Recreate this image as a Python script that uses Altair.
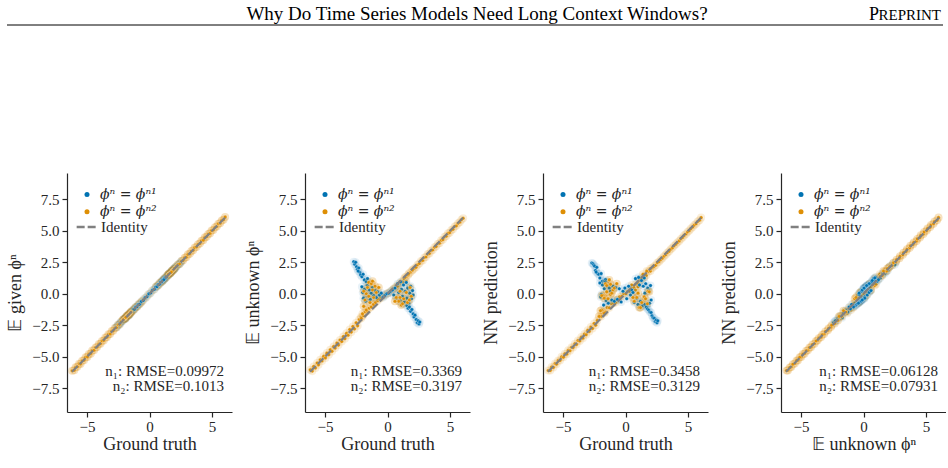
import altair as alt
import pandas as pd

# ---------------- data ----------------
HEADER = "Why Do Time Series Models Need Long Context Windows?"
LAB1 = "ϕⁿ = ϕⁿ¹"
LAB2 = "ϕⁿ = ϕⁿ²"
X_TITLES = ["Ground truth", "Ground truth", "Ground truth", "𝔼 unknown ϕⁿ"]
Y_TITLES = ["𝔼 given ϕⁿ", "𝔼 unknown ϕⁿ", "NN prediction", "NN prediction"]
RMSE_N1 = ["0.09972", "0.3369", "0.3458", "0.06128"]
RMSE_N2 = ["0.1013", "0.3197", "0.3129", "0.07931"]
X_TICKS = [-5, 0, 5]
Y_TICKS = [-7.5, -5.0, -2.5, 0.0, 2.5, 5.0, 7.5]
IDENTITY = [-6.2, 6.2]

# n2 (orange) series: ground truth, E given, E unknown, NN prediction
gt_o = [
    -6.18, -6.02, -5.91, -5.77, -5.63, -5.52, -5.38, -5.24, -5.11, -4.97,
    -4.85, -4.70, -4.58, -4.44, -4.31, -4.19, -4.05, -3.92, -3.80, -3.66,
    -3.53, -3.41, -3.28, -3.15, -3.02, -2.90, -2.77, -2.64, -2.51, -2.39, -2.26,
    -2.12, -1.95, -1.80, -1.62, -1.47, -1.30, -1.12, -0.96, -0.80, -0.63,
    -0.47, -0.30, -0.14, 0.03, 0.18, 0.35, 0.51, 0.68, 0.84, 1.01,
    1.17, 1.33, 1.50, 1.66, 1.83, 1.99, 2.14,
    2.28, 2.41, 2.55, 2.68, 2.82, 2.95, 3.08, 3.22, 3.35, 3.49,
    3.62, 3.76, 3.89, 4.03, 4.16, 4.30, 4.43, 4.57, 4.70, 4.84,
    4.97, 5.11, 5.24, 5.38, 5.51, 5.65, 5.78, 5.92, 6.05,
    -2.00, -1.90, -1.80, -1.70, -1.60, -1.50, -1.30, -1.20, -1.10, -1.00,
    -0.90, -0.80, -1.40, -1.70, -2.10, -0.70, -1.20, -1.90, -1.50, -0.60,
    0.50, 0.70, 0.80, 0.90, 1.00, 1.10, 1.20, 1.30, 1.40, 1.50,
    1.60, 1.70, 1.80, 1.90, 2.00, 1.20, 0.60, 1.50, 1.75, 1.00,
]
eg_o = [
    -6.12, -6.08, -5.85, -5.80, -5.57, -5.58, -5.33, -5.29, -5.05, -5.02,
    -4.80, -4.76, -4.52, -4.49, -4.27, -4.24, -4.00, -3.97, -3.75, -3.71,
    -3.48, -3.46, -3.23, -3.20, -2.97, -2.95, -2.72, -2.69, -2.46, -2.44, -2.21,
    -2.07, -1.99, -1.75, -1.66, -1.43, -1.34, -1.08, -0.99, -0.76, -0.66,
    -0.44, -0.33, -0.11, 0.00, 0.21, 0.32, 0.54, 0.65, 0.87, 0.98,
    1.20, 1.30, 1.53, 1.63, 1.86, 1.96, 2.17,
    2.33, 2.37, 2.60, 2.64, 2.87, 2.91, 3.13, 3.18, 3.40, 3.45,
    3.67, 3.72, 3.94, 3.99, 4.21, 4.26, 4.48, 4.53, 4.75, 4.80,
    5.02, 5.07, 5.29, 5.34, 5.56, 5.61, 5.83, 5.88, 6.10,
    -1.96, -1.93, -1.77, -1.73, -1.57, -1.53, -1.27, -1.23, -1.07, -1.03,
    -0.87, -0.83, -1.37, -1.67, -2.06, -0.73, -1.17, -1.87, -1.47, -0.57,
    0.53, 0.67, 0.83, 0.87, 1.03, 1.07, 1.23, 1.27, 1.43, 1.47,
    1.63, 1.67, 1.83, 1.87, 2.03, 1.17, 0.63, 1.53, 1.72, 0.97,
]
eu_o = [
    -6.05, -6.15, -5.78, -5.90, -5.50, -5.65, -5.25, -5.35, -4.98, -5.10,
    -4.72, -4.85, -4.45, -4.58, -4.20, -4.32, -3.92, -4.08, -3.68, -3.80,
    -3.40, -3.58, -3.15, -3.30, -2.85, -3.05, -2.60, -2.80, -2.30, -2.55, -2.05,
    -1.85, -1.75, -1.45, -1.40, -1.15, -1.05, -0.85, -0.70, -0.55, -0.40,
    -0.30, -0.15, -0.05, 0.05, 0.12, 0.25, 0.38, 0.55, 0.70, 0.85,
    1.00, 1.20, 1.35, 1.50, 1.70, 1.85, 2.00,
    2.10, 2.30, 2.40, 2.60, 2.65, 2.88, 2.92, 3.15, 3.20, 3.42,
    3.48, 3.70, 3.75, 3.98, 4.02, 4.25, 4.30, 4.52, 4.58, 4.80,
    4.85, 5.06, 5.12, 5.34, 5.40, 5.60, 5.68, 5.88, 6.00,
    -1.60, -1.00, -0.50, 0.00, 0.50, 0.90, 0.80, 0.30, -0.30, 0.60,
    0.10, -0.40, -0.70, -1.30, -1.95, 0.50, 1.00, 0.20, -0.20, -0.20,
    0.40, -0.30, 0.60, -0.60, 0.20, -0.90, 0.90, -0.40, 1.30, 0.10,
    -0.70, 1.60, 0.50, -0.20, 1.90, -0.80, -0.60, 1.00, -0.50, -0.30,
]
nn_o = [
    -6.10, -6.10, -5.82, -5.86, -5.55, -5.60, -5.30, -5.30, -5.02, -5.05,
    -4.77, -4.80, -4.50, -4.53, -4.25, -4.28, -3.97, -4.03, -3.72, -3.76,
    -3.45, -3.53, -3.20, -3.26, -2.90, -3.00, -2.65, -2.76, -2.36, -2.50, -2.12,
    -1.80, -1.80, -1.40, -1.46, -1.10, -1.12, -0.80, -0.76, -0.50, -0.46,
    -0.25, -0.20, 0.00, 0.00, 0.17, 0.20, 0.43, 0.50, 0.76, 0.80,
    1.06, 1.15, 1.41, 1.45, 1.76, 1.80, 2.05,
    2.16, 2.26, 2.46, 2.55, 2.71, 2.83, 2.98, 3.10, 3.26, 3.37,
    3.54, 3.65, 3.81, 3.93, 4.08, 4.20, 4.36, 4.47, 4.64, 4.75,
    4.91, 5.02, 5.18, 5.30, 5.46, 5.56, 5.74, 5.84, 6.05,
    -1.35, -1.30, -0.15, -0.35, 0.80, 0.65, 1.10, -0.05, 0.05, 0.30,
    0.45, -0.70, -0.40, -1.55, -1.80, 0.80, 0.75, -0.15, 0.15, -0.50,
    0.70, -0.60, 0.30, -0.30, 0.55, -1.10, 1.20, -0.70, 1.55, -0.25,
    -0.40, 1.80, 0.20, 0.15, 2.00, -1.10, -0.30, 1.30, -0.80, 0.05,
]

# n1 (blue) series
gt_b = [
    -2.70, -2.62, -2.55, -2.48, -2.40, -2.30, -2.22, -2.15, -2.05, -1.95, -1.85, -1.70, -2.35, -1.60,
    -2.05, -1.98, -1.92, -1.85, -1.75, -1.70, -1.62, -1.55, -1.45, -1.38, -1.30, -1.20, -1.10, -1.00,
    -0.90, -0.80, -0.65, -0.50,
    -0.35, -0.20, -0.05, 0.10, 0.25, 0.40,
    0.50, 0.60, 0.70, 0.80, 0.90, 1.00, 1.05, 1.12, 1.20, 1.28, 1.35, 1.42, 1.50, 1.55, 1.62, 1.70,
    1.78, 1.85, 1.92, 2.00, 2.05, 1.15,
    1.55, 1.65, 1.75, 1.85, 1.95, 2.05, 2.12, 2.20, 2.30, 2.38, 2.45, 2.52, 2.58,
]
eg_b = [
    -2.66, -2.66, -2.51, -2.52, -2.36, -2.34, -2.18, -2.19, -2.01, -1.99, -1.81, -1.74, -2.31, -1.64,
    -2.00, -2.03, -1.88, -1.90, -1.71, -1.74, -1.58, -1.60, -1.41, -1.42, -1.26, -1.24, -1.06, -1.04,
    -0.86, -0.84, -0.61, -0.54,
    -0.31, -0.24, -0.01, 0.06, 0.29, 0.36,
    0.54, 0.56, 0.74, 0.76, 0.94, 0.96, 1.09, 1.08, 1.24, 1.24, 1.39, 1.38, 1.54, 1.51, 1.66, 1.66,
    1.82, 1.81, 1.96, 1.96, 2.09, 1.11,
    1.59, 1.61, 1.79, 1.81, 1.99, 2.01, 2.16, 2.16, 2.34, 2.34, 2.49, 2.48, 2.62,
]
eu_b = [
    2.55, 2.35, 2.50, 2.15, 1.95, 2.05, 1.70, 1.50, 1.35, 1.55, 1.10, 0.95, 1.80, 1.20,
    0.55, 0.10, -0.35, 0.35, -0.60, 0.00, 0.65, -0.20, 0.30, -0.45, 0.05, 0.50, -0.15, 0.25,
    -0.30, 0.15, -0.10, 0.05,
    -0.30, -0.15, 0.00, 0.05, 0.20, 0.30,
    -0.10, 0.45, -0.35, 0.80, 0.10, -0.55, 0.95, 0.35, -0.20, 0.70, -0.65, 0.20, 0.90, -0.35, 0.45, -0.75,
    0.05, 0.60, -0.40, 0.25, -0.10, -0.80,
    -0.95, -1.15, -1.05, -1.40, -1.25, -1.60, -1.85, -1.70, -2.05, -2.30, -2.15, -2.40, -2.25,
]
nn_b = [
    2.45, 2.40, 2.30, 2.20, 1.85, 2.10, 1.60, 1.55, 1.25, 1.60, 1.00, 1.02, 1.72, 1.12,
    0.85, -0.25, -0.05, 0.70, -0.90, 0.40, 0.95, -0.55, 0.60, -0.75, 0.45, 0.20, -0.50, 0.60,
    -0.60, 0.50, -0.45, 0.40,
    -0.65, 0.20, 0.45, -0.40, 0.60, -0.10,
    0.30, 0.10, -0.70, 1.20, -0.35, -0.85, 1.30, 0.70, -0.60, 1.05, -0.95, 0.60, 1.25, 0.05, 0.80, -1.00,
    0.45, 0.25, -0.75, 0.65, -0.50, -1.05,
    -0.85, -1.05, -1.20, -1.30, -1.45, -1.50, -1.75, -1.90, -1.95, -2.20, -2.10, -2.30, -2.15,
]

for arr in (eg_o, eu_o, nn_o):
    assert len(arr) == len(gt_o), (len(arr), len(gt_o))
for arr in (eg_b, eu_b, nn_b):
    assert len(arr) == len(gt_b), (len(arr), len(gt_b))

# ---------------- styling ----------------
BLUE = "#0173B2"
ORANGE = "#DE8F05"
GRAY = "#808080"
INK = "#262626"
SERIF = "Liberation Serif"
MATH = "DejaVu Serif"
PW, PH = 165, 239
YEXT = 61  # y axis extent incl. title

PANEL_DATA = [
    (gt_o, eg_o, gt_b, eg_b),
    (gt_o, eu_o, gt_b, eu_b),
    (gt_o, nn_o, gt_b, nn_b),
    (eu_o, nn_o, eu_b, nn_b),
]
# which orange points get re-drawn above the blue ones (draw order of the original scatter)
ORANGE_ON_TOP = [
    "abs(datum.x) > 1.4",
    "abs(datum.y - datum.x) > 0.6",
    "abs(datum.y - datum.x) > 0.6",
    "abs(datum.x) > 1.3",
]


def make_panel(i):
    xo, yo, xb, yb = PANEL_DATA[i]
    do = pd.DataFrame({"x": xo, "y": yo, "series": LAB2})
    db = pd.DataFrame({"x": xb, "y": yb, "series": LAB1})
    dl = pd.DataFrame({"x": IDENTITY, "y": IDENTITY, "kind": "Identity"})

    X = alt.X("x:Q", scale=alt.Scale(domain=[-6.6, 6.6], nice=False, zero=False),
              axis=alt.Axis(values=X_TICKS, format="d", title=X_TITLES[i],
                            labelPadding=2, titlePadding=1))
    Y = alt.Y("y:Q", scale=alt.Scale(domain=[-9.4, 9.6], nice=False, zero=False),
              axis=alt.Axis(values=Y_TICKS, format=".1f", title=Y_TITLES[i],
                            labelPadding=3, titlePadding=8,
                            minExtent=35, maxExtent=35))
    color = alt.Color(
        "series:N",
        scale=alt.Scale(domain=[LAB1, LAB2], range=[BLUE, ORANGE]),
        legend=alt.Legend(title=None, orient="none", legendX=13, legendY=14.5,
                          symbolType="circle", symbolSize=25, symbolOpacity=1,
                          symbolStrokeWidth=0, padding=0, rowPadding=3.3,
                          labelOffset=6, labelFont=MATH, labelFontSize=14,
                          labelFontStyle="italic", labelColor=INK),
    )

    def halo(ch, c, op):
        return ch.mark_circle(size=65, opacity=op, color=c).encode(x=X, y=Y)

    def dots(ch):
        return ch.mark_circle(size=13, opacity=1, stroke="white",
                              strokeWidth=0.3).encode(x=X, y=Y, color=color)

    co = alt.Chart(do)
    cb = alt.Chart(db)
    top = alt.Chart(do).transform_filter(ORANGE_ON_TOP[i])
    pts = [halo(co, ORANGE, 0.15), dots(co), halo(cb, BLUE, 0.09), dots(cb),
           halo(top, ORANGE, 0.12), dots(top)]

    line = alt.Chart(dl).mark_line(color=GRAY, strokeWidth=2.2).encode(
        x=X, y=Y,
        strokeDash=alt.StrokeDash(
            "kind:N",
            scale=alt.Scale(domain=["Identity"], range=[[8, 3]]),
            legend=alt.Legend(title=None, orient="none", legendX=8, legendY=41.5,
                              symbolType="stroke", symbolSize=470,
                              symbolStrokeColor=GRAY, symbolStrokeWidth=2.5,
                              padding=0, labelOffset=1, labelFont=SERIF,
                              labelFontSize=15, labelFontStyle="normal",
                              labelColor=INK),
        ),
    )

    one = pd.DataFrame({"a": [0]})
    t1 = alt.Chart(one).mark_text(align="right", baseline="middle", font=SERIF,
                                  fontSize=15, color=INK).encode(
        x=alt.value(PW - 8), y=alt.value(198), text=alt.value(f"n₁: RMSE={RMSE_N1[i]}"))
    t2 = alt.Chart(one).mark_text(align="right", baseline="middle", font=SERIF,
                                  fontSize=15, color=INK).encode(
        x=alt.value(PW - 8), y=alt.value(213), text=alt.value(f"n₂: RMSE={RMSE_N2[i]}"))

    return alt.layer(*pts, line, t1, t2).properties(width=PW, height=PH)


panels = alt.hconcat(*[make_panel(i) for i in range(4)], spacing=12).resolve_scale(
    x="independent", y="independent", color="independent", strokeDash="independent"
).resolve_legend(color="independent", strokeDash="independent")

# header: its origin is aligned with the first panel's plot origin (x = 6 + YEXT)
hd = pd.DataFrame({"a": [0]})
head_title = alt.Chart(hd).mark_text(font=SERIF, fontSize=19, align="center",
                                     baseline="alphabetic", color="black").encode(
    x=alt.value(477 - 6 - YEXT), y=alt.value(20), text=alt.value(HEADER))
head_p = alt.Chart(hd).mark_text(font=SERIF, fontSize=18, align="right",
                                 baseline="alphabetic", color="black").encode(
    x=alt.value(879 - 6 - YEXT), y=alt.value(20), text=alt.value("P"))
head_rest = alt.Chart(hd).mark_text(font=SERIF, fontSize=15, align="right",
                                    baseline="alphabetic", color="black").encode(
    x=alt.value(941 - 6 - YEXT), y=alt.value(20), text=alt.value("REPRINT"))
head_rule = alt.Chart(hd).mark_rule(color="black", strokeWidth=1).encode(
    x=alt.value(7 - 6 - YEXT), x2=alt.value(943 - 6 - YEXT), y=alt.value(25))
header = alt.layer(head_title, head_p, head_rest, head_rule).properties(
    width=940 - YEXT, height=26)

chart = alt.vconcat(header, panels, spacing=147).properties(
    padding={"left": 6, "top": 0, "right": 0, "bottom": 0}
).configure_view(stroke=None).configure_axis(
    grid=False, domainColor=INK, tickColor=INK, labelColor=INK, titleColor=INK,
    labelFont=SERIF, titleFont=SERIF, labelFontSize=15, titleFontSize=18,
    titleFontWeight="normal", tickSize=5, domainWidth=1.2, tickWidth=1.2,
)

chart.save("out.html", embed_options={"renderer": "svg", "actions": False})
